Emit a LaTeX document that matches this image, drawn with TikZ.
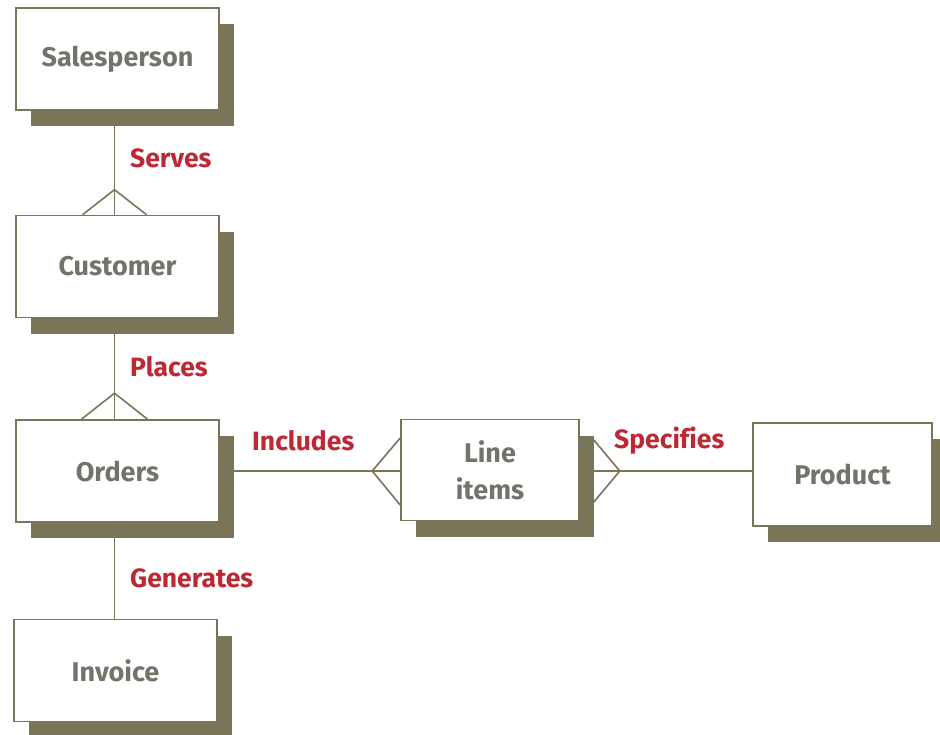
\documentclass[tikz,border=0pt]{standalone}
\usepackage{fontspec}
\setmainfont{Fira Sans}[Ligatures=NoCommon]
\usetikzlibrary{shadows,calc}
\definecolor{olive}{RGB}{122,117,88}
\definecolor{lblred}{RGB}{190,40,52}
\definecolor{txtgray}{RGB}{115,115,105}
\begin{document}
\begin{tikzpicture}[x=1pt,y=-1pt,
  entity/.style={draw=olive, line width=1.6pt, fill=white, minimum width=203pt, minimum height=102pt,
    inner sep=0pt, align=center, font=\fontsize{27}{37}\selectfont\bfseries, text=txtgray,
    drop shadow={shadow xshift=15pt, shadow yshift=-16pt, fill=olive, opacity=1}},
  rel/.style={font=\fontsize{26.5}{28}\selectfont\bfseries, text=lblred, anchor=west, inner sep=0pt},
  conn/.style={draw=olive, line width=1.6pt}]
\useasboundingbox (0,0) rectangle (940,734);
\node[entity] (S) at (117.5,59) {Salesperson};
\node[entity] (C) at (117.5,266.5) {Customer};
\node[entity] (O) at (117.5,471) {Orders};
\node[entity] (I) at (115.5,670.5) {Invoice};
\node[entity, minimum width=178pt, minimum height=101pt] (L) at (490,470) {Line\\items};
\node[entity, minimum width=179pt, minimum height=103pt] (P) at (842.5,474.5) {Product};
% connectors
\draw[conn] ($(S.south)+(-3,0)$) coordinate (s1) -- (s1 |- C.north);
\draw[conn] ($(s1 |- C.north)+(-32,0)$) -- ($(s1 |- C.north)+(0,-25)$) -- ($(s1 |- C.north)+(32,0)$);
\draw[conn] ($(C.south)+(-3,0)$) coordinate (c1) -- (c1 |- O.north);
\draw[conn] ($(c1 |- O.north)+(-33,0)$) -- ($(c1 |- O.north)+(0,-26)$) -- ($(c1 |- O.north)+(33,0)$);
\draw[conn] ($(O.south)+(-3,0)$) coordinate (o1) -- (o1 |- I.north);
\draw[conn] (O.east) -- (O.east -| L.west) coordinate (l1);
\draw[conn] ($(l1)+(0,-33)$) -- ($(l1)+(-28,0)$) -- ($(l1)+(0,34)$);
\draw[conn] (O.east -| L.east) coordinate (l2) -- (O.east -| P.west);
\draw[conn] ($(l2)+(14,-31)$) -- ($(l2)+(40,0)$) -- ($(l2)+(14,31)$);
% labels
\node[rel] (r1) at (130,158) {Serves};
\node[rel] (r2) at (130,367) {Places};
\node[rel] (r3) at (252,441) {Includes};
\node[rel] (r4) at (614,441) {Specifies};
\node[rel] (r5) at (130,578) {Generates};
\end{tikzpicture}
\end{document}
